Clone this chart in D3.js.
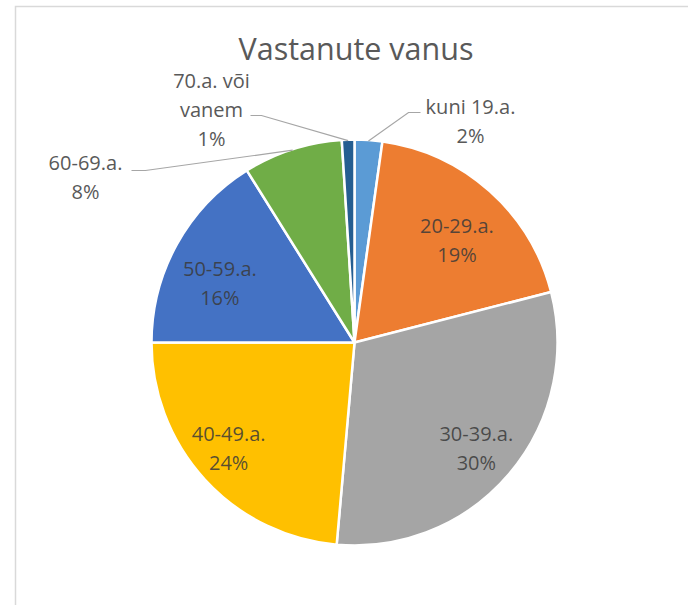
<!DOCTYPE html>
<html>
<head>
<meta charset="utf-8">
<script src="https://cdn.jsdelivr.net/npm/d3@7"></script>
<style>
  html, body { margin: 0; padding: 0; background: #fff; }
  svg { display: block; }
</style>
</head>
<body>
<svg id="chart" width="688" height="605"></svg>
<script>
// ---- data ----
const title = "Vastanute vanus";
const categories = ["kuni 19.a.", "20-29.a.", "30-39.a.", "40-49.a.", "50-59.a.", "60-69.a.", "70.a. või vanem"];
const shares = [2.2, 18.8, 30.4, 23.6, 16.1, 7.9, 1.0];
const percentLabels = ["2%", "19%", "30%", "24%", "16%", "8%", "1%"];
const sliceColors = ["#5B9BD5", "#ED7D31", "#A5A5A5", "#FFC000", "#4472C4", "#70AD47", "#255E91"];

// ---- layout ----
const W = 688, H = 605;
const cx = 354.5, cy = 342.5, R = 203;
const font = "'Open Sans', 'Noto Sans', sans-serif";
const labelSize = 20;
const lineGap = 29;

const svg = d3.select("#chart");

// chart area border
svg.append("rect")
  .attr("x", 15.5).attr("y", 6.5)
  .attr("width", W + 20).attr("height", H + 20)
  .attr("fill", "#fff").attr("stroke", "#d9d9d9").attr("stroke-width", 1.5);

// title
svg.append("text")
  .attr("x", 356).attr("y", 60)
  .attr("text-anchor", "middle")
  .attr("font-family", font).attr("font-size", 30.5)
  .attr("fill", "#595959")
  .text(title);

const data = categories.map((c, i) => ({ cat: c, value: shares[i], pct: percentLabels[i], color: sliceColors[i] }));

const pie = d3.pie().sort(null).value(d => d.value);
const arcs = pie(data);
const arc = d3.arc().innerRadius(0).outerRadius(R);
const edgeArc = d3.arc().innerRadius(R - 1).outerRadius(R - 1);

const g = svg.append("g").attr("transform", `translate(${cx},${cy})`);

g.selectAll("path.slice")
  .data(arcs)
  .join("path")
  .attr("class", "slice")
  .attr("d", arc)
  .attr("fill", d => d.data.color)
  .attr("stroke", "#fff")
  .attr("stroke-width", 2.5)
  .attr("stroke-linejoin", "round");

// inside labels: radius and small angle nudge (best-fit placement)
const insideLayout = {
  1: { r: 145, dA: 3.2 },
  2: { r: 161, dA: 0.5 },
  3: { r: 164, dA: 2.6 },
  4: { r: 147, dA: -5.3 }
};
const inside = g.selectAll("g.inlab")
  .data(arcs.filter(a => insideLayout[a.index]))
  .join("g")
  .attr("class", "inlab")
  .attr("transform", d => {
    const L = insideLayout[d.index];
    const la = d3.arc().innerRadius(L.r).outerRadius(L.r);
    const shift = L.dA * Math.PI / 180;
    const [x, y] = la.centroid({ startAngle: d.startAngle + shift, endAngle: d.endAngle + shift });
    return `translate(${x},${y})`;
  });
inside.append("text")
  .attr("text-anchor", "middle")
  .attr("y", -7)
  .attr("font-family", font).attr("font-size", labelSize)
  .attr("fill", "#3a3a3a").attr("fill-opacity", 0.85)
  .text(d => d.data.cat);
inside.append("text")
  .attr("text-anchor", "middle")
  .attr("y", -7 + lineGap)
  .attr("font-family", font).attr("font-size", labelSize)
  .attr("fill", "#3a3a3a").attr("fill-opacity", 0.85)
  .text(d => d.data.pct);

// outside labels (anchor positions relative to pie centre)
const outside = {
  0: { lines: ["kuni 19.a.", null], x: 116, y: -229, elbow: [[66, -230], [54, -230]] },
  6: { lines: ["70.a. või", "vanem", null], x: -143, y: -255, elbow: [[-104, -227], [-93, -227]] },
  5: { lines: ["60-69.a.", null], x: -269, y: -173, elbow: [[-223, -172], [-209, -172]] }
};

arcs.forEach(a => {
  const o = outside[a.index];
  if (!o) return;
  const tg = g.append("g");
  o.lines.forEach((ln, k) => {
    tg.append("text")
      .attr("x", o.x).attr("y", o.y + k * lineGap)
      .attr("text-anchor", "middle")
      .attr("font-family", font).attr("font-size", labelSize)
      .attr("fill", "#595959")
      .text(ln === null ? a.data.pct : ln);
  });
  const p = edgeArc.centroid(a);
  g.append("polyline")
    .attr("points", [o.elbow[0], o.elbow[1], p].map(q => q.join(",")).join(" "))
    .attr("fill", "none")
    .attr("stroke", "#a6a6a6")
    .attr("stroke-width", 1.2);
});
</script>
</body>
</html>
